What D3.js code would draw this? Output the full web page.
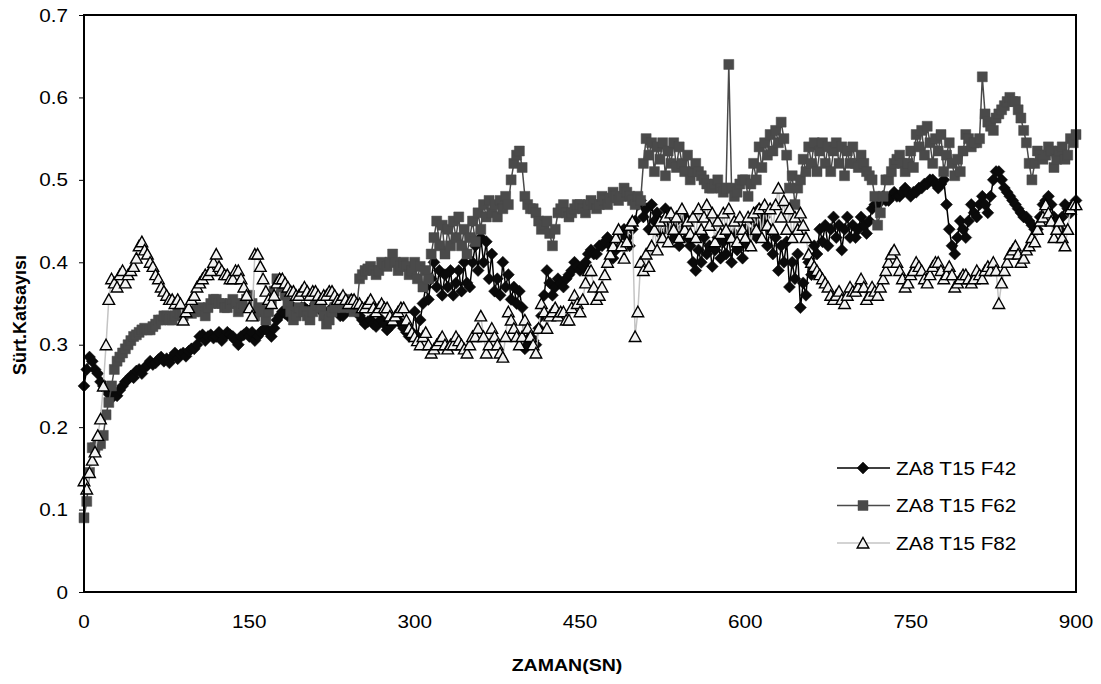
<!DOCTYPE html>
<html>
<head>
<meta charset="utf-8">
<script src="https://cdn.jsdelivr.net/npm/d3@7"></script>
<style>
  body { margin: 0; background: #fff; }
  text { font-family: Arial, "Liberation Sans", sans-serif; fill: #000; }
</style>
</head>
<body>
<svg id="chart" width="1101" height="684"></svg>
<script>
// Sampling interval of the friction test (seconds)
const sampleStep = 2.5;
const times = d3.range(0, 900 + sampleStep / 2, sampleStep);

const xTickValues = [0, 150, 300, 450, 600, 750, 900];
const yTickValues = [0, 0.1, 0.2, 0.3, 0.4, 0.5, 0.6, 0.7];
const seriesNames = ["ZA8 T15 F42", "ZA8 T15 F62", "ZA8 T15 F82"];

// Friction coefficient, load F42 (one row = 50 s)
const f42 = [
  0.25, 0.27, 0.285, 0.28, 0.27, 0.265, 0.255, 0.25, 0.245, 0.24, 0.235, 0.24, 0.238, 0.245, 0.25, 0.255, 0.258, 0.262, 0.26, 0.268,
  0.27, 0.265, 0.272, 0.275, 0.28, 0.276, 0.278, 0.282, 0.285, 0.28, 0.283, 0.278, 0.285, 0.29, 0.283, 0.288, 0.29, 0.286, 0.292, 0.295,
  0.295, 0.30, 0.31, 0.312, 0.305, 0.31, 0.312, 0.308, 0.31, 0.315, 0.305, 0.31, 0.315, 0.312, 0.31, 0.305, 0.30, 0.31, 0.312, 0.315,
  0.31, 0.315, 0.305, 0.31, 0.315, 0.318, 0.32, 0.315, 0.31, 0.32, 0.33, 0.335, 0.34, 0.338, 0.335, 0.342, 0.345, 0.34, 0.34, 0.345,
  0.345, 0.342, 0.34, 0.345, 0.35, 0.345, 0.342, 0.338, 0.338, 0.34, 0.345, 0.342, 0.34, 0.335, 0.335, 0.34, 0.342, 0.345, 0.345, 0.34,
  0.335, 0.33, 0.325, 0.328, 0.33, 0.325, 0.322, 0.328, 0.33, 0.325, 0.318, 0.322, 0.325, 0.33, 0.33, 0.325, 0.32, 0.315, 0.31, 0.315,
  0.34, 0.31, 0.33, 0.35, 0.37, 0.355, 0.38, 0.40, 0.37, 0.39, 0.36, 0.385, 0.37, 0.39, 0.36, 0.375, 0.39, 0.365, 0.40, 0.375,
  0.37, 0.40, 0.42, 0.39, 0.43, 0.40, 0.425, 0.38, 0.41, 0.365, 0.38, 0.36, 0.40, 0.37, 0.385, 0.355, 0.37, 0.35, 0.365, 0.345,
  0.295, 0.30, 0.31, 0.305, 0.30, 0.32, 0.335, 0.36, 0.39, 0.375, 0.36, 0.37, 0.38, 0.375, 0.37, 0.38, 0.385, 0.39, 0.40, 0.395,
  0.39, 0.395, 0.40, 0.41, 0.415, 0.41, 0.41, 0.42, 0.42, 0.425, 0.43, 0.42, 0.405, 0.415, 0.43, 0.435, 0.44, 0.43, 0.42, 0.44,
  0.45, 0.47, 0.475, 0.455, 0.465, 0.44, 0.47, 0.45, 0.46, 0.435, 0.45, 0.465, 0.44, 0.455, 0.43, 0.45, 0.42, 0.44, 0.455, 0.43,
  0.42, 0.40, 0.39, 0.415, 0.40, 0.43, 0.41, 0.42, 0.395, 0.415, 0.43, 0.405, 0.425, 0.41, 0.43, 0.40, 0.435, 0.415, 0.42, 0.405,
  0.44, 0.42, 0.435, 0.45, 0.43, 0.465, 0.445, 0.455, 0.42, 0.44, 0.41, 0.43, 0.39, 0.42, 0.40, 0.425, 0.37, 0.40, 0.38, 0.41,
  0.345, 0.375, 0.36, 0.40, 0.385, 0.42, 0.41, 0.44, 0.425, 0.445, 0.42, 0.44, 0.455, 0.43, 0.445, 0.415, 0.44, 0.455, 0.43, 0.445,
  0.43, 0.44, 0.455, 0.445, 0.435, 0.45, 0.465, 0.47, 0.47, 0.475, 0.48, 0.475, 0.475, 0.48, 0.485, 0.48, 0.48, 0.485, 0.49, 0.485,
  0.48, 0.485, 0.485, 0.49, 0.49, 0.495, 0.495, 0.50, 0.50, 0.495, 0.49, 0.495, 0.50, 0.47, 0.44, 0.42, 0.41, 0.43, 0.45, 0.44,
  0.43, 0.45, 0.47, 0.46, 0.455, 0.47, 0.48, 0.47, 0.46, 0.48, 0.50, 0.51, 0.51, 0.50, 0.49, 0.485, 0.48, 0.475, 0.47, 0.465,
  0.46, 0.455, 0.455, 0.45, 0.445, 0.44, 0.44, 0.455, 0.47, 0.475, 0.48, 0.47, 0.455, 0.445, 0.44, 0.455, 0.47, 0.465, 0.46, 0.47,
  0.475
];

// Friction coefficient, load F62 (one row = 50 s)
const f62 = [
  0.09, 0.11, 0.145, 0.175, 0.175, 0.178, 0.18, 0.19, 0.215, 0.23, 0.25, 0.27, 0.28, 0.285, 0.29, 0.295, 0.30, 0.305, 0.31, 0.312,
  0.315, 0.318, 0.32, 0.318, 0.318, 0.322, 0.325, 0.33, 0.33, 0.335, 0.335, 0.33, 0.33, 0.335, 0.34, 0.338, 0.335, 0.34, 0.34, 0.338,
  0.34, 0.342, 0.345, 0.34, 0.335, 0.345, 0.35, 0.355, 0.355, 0.35, 0.35, 0.345, 0.345, 0.35, 0.355, 0.35, 0.34, 0.345, 0.35, 0.355,
  0.36, 0.35, 0.335, 0.34, 0.345, 0.34, 0.33, 0.34, 0.35, 0.365, 0.38, 0.375, 0.37, 0.36, 0.35, 0.34, 0.33, 0.335, 0.345, 0.34,
  0.34, 0.335, 0.33, 0.34, 0.35, 0.348, 0.345, 0.335, 0.325, 0.33, 0.34, 0.345, 0.35, 0.352, 0.345, 0.35, 0.355, 0.345, 0.34, 0.345,
  0.38, 0.385, 0.39, 0.392, 0.395, 0.39, 0.385, 0.39, 0.40, 0.398, 0.395, 0.40, 0.41, 0.40, 0.39, 0.395, 0.40, 0.395, 0.385, 0.39,
  0.40, 0.38, 0.395, 0.37, 0.39, 0.38, 0.41, 0.43, 0.45, 0.42, 0.445, 0.41, 0.44, 0.42, 0.45, 0.43, 0.455, 0.42, 0.44, 0.41,
  0.43, 0.45, 0.425, 0.46, 0.44, 0.47, 0.455, 0.475, 0.46, 0.47, 0.455, 0.475, 0.465, 0.48, 0.47, 0.50, 0.52, 0.53, 0.535, 0.515,
  0.48, 0.47, 0.465, 0.465, 0.46, 0.45, 0.44, 0.445, 0.45, 0.435, 0.42, 0.44, 0.46, 0.465, 0.47, 0.46, 0.455, 0.46, 0.465, 0.47,
  0.47, 0.465, 0.46, 0.47, 0.475, 0.47, 0.465, 0.47, 0.48, 0.475, 0.47, 0.478, 0.485, 0.48, 0.475, 0.48, 0.49, 0.485, 0.48, 0.475,
  0.47, 0.48, 0.475, 0.52, 0.55, 0.53, 0.545, 0.51, 0.54, 0.525, 0.545, 0.505, 0.535, 0.52, 0.545, 0.515, 0.54, 0.52, 0.51, 0.53,
  0.50, 0.51, 0.52, 0.51, 0.505, 0.50, 0.495, 0.49, 0.49, 0.495, 0.50, 0.49, 0.485, 0.49, 0.64, 0.49, 0.48, 0.485, 0.495, 0.50,
  0.50, 0.48, 0.495, 0.52, 0.50, 0.54, 0.515, 0.545, 0.53, 0.555, 0.535, 0.56, 0.545, 0.57, 0.55, 0.53, 0.49, 0.505, 0.47, 0.49,
  0.50, 0.525, 0.51, 0.54, 0.52, 0.545, 0.51, 0.535, 0.545, 0.52, 0.54, 0.51, 0.535, 0.545, 0.52, 0.54, 0.505, 0.535, 0.52, 0.54,
  0.52, 0.515, 0.53, 0.52, 0.51, 0.505, 0.50, 0.48, 0.445, 0.46, 0.48, 0.50, 0.50, 0.51, 0.52, 0.525, 0.53, 0.52, 0.51, 0.52,
  0.535, 0.515, 0.555, 0.54, 0.56, 0.53, 0.565, 0.545, 0.52, 0.55, 0.535, 0.555, 0.51, 0.53, 0.545, 0.52, 0.505, 0.525, 0.51, 0.535,
  0.555, 0.55, 0.54, 0.545, 0.545, 0.55, 0.625, 0.58, 0.57, 0.565, 0.56, 0.575, 0.58, 0.585, 0.59, 0.595, 0.60, 0.595, 0.595, 0.585,
  0.575, 0.56, 0.545, 0.52, 0.50, 0.52, 0.535, 0.53, 0.525, 0.53, 0.54, 0.535, 0.515, 0.525, 0.535, 0.54, 0.525, 0.53, 0.55, 0.545,
  0.555
];

// Friction coefficient, load F82 (one row = 50 s)
const f82 = [
  0.135, 0.125, 0.145, 0.16, 0.17, 0.19, 0.21, 0.25, 0.30, 0.355, 0.38, 0.375, 0.37, 0.385, 0.39, 0.375, 0.385, 0.39, 0.395, 0.405,
  0.42, 0.425, 0.415, 0.41, 0.40, 0.395, 0.385, 0.38, 0.37, 0.365, 0.36, 0.355, 0.355, 0.35, 0.355, 0.35, 0.33, 0.34, 0.345, 0.355,
  0.36, 0.37, 0.375, 0.38, 0.385, 0.385, 0.39, 0.40, 0.41, 0.395, 0.39, 0.385, 0.385, 0.38, 0.38, 0.39, 0.39, 0.38, 0.37, 0.36,
  0.345, 0.335, 0.41, 0.41, 0.395, 0.38, 0.365, 0.355, 0.35, 0.36, 0.375, 0.38, 0.38, 0.375, 0.37, 0.365, 0.365, 0.36, 0.36, 0.365,
  0.37, 0.365, 0.36, 0.365, 0.365, 0.36, 0.355, 0.36, 0.36, 0.365, 0.365, 0.36, 0.355, 0.355, 0.36, 0.355, 0.35, 0.355, 0.355, 0.35,
  0.35, 0.345, 0.345, 0.35, 0.355, 0.345, 0.34, 0.345, 0.35, 0.345, 0.345, 0.335, 0.33, 0.335, 0.34, 0.345, 0.345, 0.33, 0.32, 0.315,
  0.31, 0.305, 0.30, 0.31, 0.315, 0.30, 0.29, 0.295, 0.30, 0.305, 0.31, 0.30, 0.295, 0.30, 0.30, 0.31, 0.305, 0.30, 0.295, 0.29,
  0.30, 0.31, 0.31, 0.32, 0.335, 0.31, 0.29, 0.30, 0.32, 0.31, 0.30, 0.29, 0.285, 0.31, 0.34, 0.33, 0.32, 0.31, 0.30, 0.31,
  0.33, 0.32, 0.31, 0.30, 0.29, 0.32, 0.35, 0.34, 0.32, 0.335, 0.34, 0.345, 0.335, 0.34, 0.34, 0.33, 0.33, 0.345, 0.36, 0.35,
  0.34, 0.355, 0.375, 0.39, 0.39, 0.37, 0.355, 0.36, 0.37, 0.385, 0.40, 0.41, 0.42, 0.43, 0.44, 0.42, 0.405, 0.425, 0.445, 0.45,
  0.31, 0.34, 0.40, 0.39, 0.41, 0.395, 0.42, 0.44, 0.415, 0.45, 0.43, 0.455, 0.425, 0.46, 0.44, 0.455, 0.43, 0.465, 0.44, 0.45,
  0.435, 0.455, 0.43, 0.465, 0.44, 0.455, 0.47, 0.445, 0.46, 0.425, 0.45, 0.435, 0.46, 0.44, 0.465, 0.43, 0.45, 0.425, 0.455, 0.44,
  0.43, 0.455, 0.42, 0.46, 0.44, 0.465, 0.43, 0.47, 0.445, 0.465, 0.44, 0.47, 0.49, 0.455, 0.475, 0.44, 0.465, 0.43, 0.455, 0.44,
  0.46, 0.445, 0.43, 0.41, 0.40, 0.395, 0.39, 0.385, 0.38, 0.375, 0.37, 0.36, 0.355, 0.36, 0.365, 0.355, 0.35, 0.36, 0.37, 0.365,
  0.365, 0.37, 0.38, 0.37, 0.355, 0.36, 0.37, 0.365, 0.36, 0.37, 0.38, 0.39, 0.40, 0.41, 0.415, 0.40, 0.39, 0.38, 0.37, 0.375,
  0.385, 0.39, 0.40, 0.395, 0.39, 0.38, 0.375, 0.385, 0.395, 0.40, 0.40, 0.39, 0.38, 0.385, 0.395, 0.385, 0.37, 0.375, 0.38, 0.385,
  0.385, 0.38, 0.375, 0.38, 0.39, 0.385, 0.38, 0.39, 0.395, 0.39, 0.40, 0.39, 0.35, 0.375, 0.39, 0.40, 0.41, 0.415, 0.42, 0.41,
  0.40, 0.405, 0.415, 0.42, 0.43, 0.425, 0.44, 0.45, 0.455, 0.47, 0.46, 0.45, 0.43, 0.44, 0.45, 0.43, 0.42, 0.44, 0.465, 0.47,
  0.47
];

const svg = d3.select("#chart");
const plot = { left: 84, right: 1076, top: 15, bottom: 592 };
const textStretch = 1.15;

const x = d3.scaleLinear().domain([0, 900]).range([plot.left, plot.right]);
const y = d3.scaleLinear().domain([0, 0.7]).range([plot.bottom, plot.top]);

// Marker shapes
const diamond = "M0,-6L6,0L0,6L-6,0Z";
const square = "M-5,-5H5V5H-5Z";
const triangle = "M0,-5.5L5.8,5H-5.8Z";

const series = [
  { name: seriesNames[0], values: f42, line: "#000000", lineWidth: 1.5,
    marker: diamond, fill: "#0a0a0a", stroke: "#0a0a0a", strokeWidth: 0.5 },
  { name: seriesNames[1], values: f62, line: "#4a4a4a", lineWidth: 1.5,
    marker: square, fill: "#4a4a4a", stroke: "#4a4a4a", strokeWidth: 0.5 },
  { name: seriesNames[2], values: f82, line: "#c4c4c4", lineWidth: 1.5,
    marker: triangle, fill: "#f2f2f2", stroke: "#000000", strokeWidth: 1.4 }
];

// Stretched text helper (labels are slightly wide)
function label(g, str, px, py, anchor, opts = {}) {
  return g.append("text")
    .attr("transform", `translate(${px},${py}) scale(${textStretch},1)`)
    .attr("text-anchor", anchor)
    .attr("font-size", opts.size || 18)
    .attr("font-weight", opts.weight || "normal")
    .text(str);
}

// Y axis
const yAxis = d3.axisLeft(y).tickValues(yTickValues).tickSize(5).tickFormat(() => "");
const yG = svg.append("g").attr("transform", `translate(${plot.left},0)`).call(yAxis);
yG.select(".domain").remove();
yG.selectAll(".tick line").attr("stroke", "#000").attr("stroke-width", 1);
yTickValues.forEach(v => {
  label(svg, d3.format("")(v), plot.left - 16, y(v) + 6.5, "end");
});

// X axis labels
const xAxis = d3.axisBottom(x).tickValues(xTickValues).tickSize(0).tickFormat(() => "");
const xG = svg.append("g").attr("transform", `translate(0,${plot.bottom})`).call(xAxis);
xG.select(".domain").remove();
xTickValues.forEach(v => {
  label(svg, String(v), x(v), 628, "middle");
});

// Series: line then markers, one series at a time
series.forEach(s => {
  const pts = times.map((t, i) => [t, s.values[i]]);
  const g = svg.append("g");
  g.append("path")
    .datum(pts)
    .attr("fill", "none")
    .attr("stroke", s.line)
    .attr("stroke-width", s.lineWidth)
    .attr("stroke-linejoin", "round")
    .attr("d", d3.line().x(d => x(d[0])).y(d => y(d[1])));
  g.selectAll("path.mk")
    .data(pts)
    .join("path")
    .attr("class", "mk")
    .attr("d", s.marker)
    .attr("transform", d => `translate(${x(d[0])},${y(d[1])})`)
    .attr("fill", s.fill)
    .attr("stroke", s.stroke)
    .attr("stroke-width", s.strokeWidth);
});

// Plot frame
svg.append("rect")
  .attr("x", plot.left).attr("y", plot.top)
  .attr("width", plot.right - plot.left).attr("height", plot.bottom - plot.top)
  .attr("fill", "none").attr("stroke", "#000").attr("stroke-width", 2);

// Axis titles
label(svg, "ZAMAN(SN)", 567, 671, "middle", { weight: "bold", size: 17 });
svg.append("text")
  .attr("transform", "translate(26,315) rotate(-90)")
  .attr("text-anchor", "middle")
  .attr("font-size", 18)
  .attr("font-weight", "bold")
  .text("Sürt.Katsayısı");

// Legend
const legend = svg.append("g");
series.forEach((s, i) => {
  const ly = 468 + i * 37.5;
  legend.append("line")
    .attr("x1", 837).attr("x2", 890).attr("y1", ly).attr("y2", ly)
    .attr("stroke", s.line).attr("stroke-width", 1.5);
  legend.append("path")
    .attr("d", s.marker)
    .attr("transform", `translate(863,${ly})`)
    .attr("fill", s.fill).attr("stroke", s.stroke).attr("stroke-width", s.strokeWidth);
  label(legend, s.name, 896, ly + 6.5, "start");
});
</script>
</body>
</html>
